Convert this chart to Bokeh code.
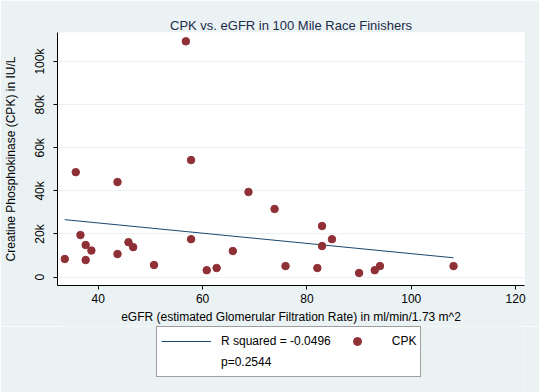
import numpy as np
from bokeh.plotting import figure
from bokeh.layouts import column
from bokeh.models import Legend, LegendItem, FixedTicker
from bokeh.embed import file_html
from bokeh.resources import INLINE

# eGFR (ml/min/1.73 m^2) and CPK (IU/L) for each finisher
egfr = [33.6, 35.7, 36.6, 37.6, 37.6, 38.7, 43.7, 43.7, 45.8, 46.7, 50.7, 57.8, 57.8, 60.8,
        62.7, 56.8, 65.8, 68.8, 73.8, 75.9, 82.0, 82.9, 82.9, 84.8, 90.0, 93.0, 94.0, 108.1]
cpk = [8400, 48700, 19500, 14900, 7900, 12300, 44100, 10700, 16200, 13900, 5600, 54300, 17600, 3200,
       4200, 109400, 12100, 39500, 31600, 5100, 4200, 23700, 14400, 17600, 1900, 3200, 5100, 5100]

x_ticks = [40, 60, 80, 100, 120]
y_ticks = [0, 20000, 40000, 60000, 80000, 100000]
y_tick_labels = ["0", "20k", "40k", "60k", "80k", "100k"]

title_text = "CPK vs. eGFR in 100 Mile Race Finishers"
x_label = "eGFR (estimated Glomerular Filtration Rate) in ml/min/1.73 m^2"
y_label = "Creatine Phosphokinase (CPK) in IU/L"
fit_label = "R squared = -0.0496"
p_label = "p=0.2544"
series_label = "CPK"

BG = "#EAF2F3"
FONT = "Liberation Sans"
LINE_COLOR = "#1A476F"
DOT_COLOR = "#8f3036"

p = figure(width=539, height=326, output_backend="svg", toolbar_location=None,
           x_range=(32.2, 121.7), y_range=(-3900, 113500),
           min_border_left=53, min_border_right=15, min_border_top=32, min_border_bottom=41,
           border_fill_color=BG, background_fill_color="white", outline_line_color=None)

p.title.text = title_text
p.title.align = "center"
p.title.text_font = FONT
p.title.text_font_size = "13px"
p.title.text_font_style = "normal"
p.title.text_color = "#1c2b4b"
p.title.standoff = 0

# fit line from OLS on the data
coef = np.polyfit(egfr, cpk, 1)
fx = np.array([min(egfr), max(egfr)])
fy = np.polyval(coef, fx)
p.line(fx, fy, line_color=LINE_COLOR, line_width=1)

p.scatter(egfr, cpk, size=7.5, fill_color=DOT_COLOR, line_color=DOT_COLOR)

# axes
for ax in (p.xaxis[0], p.yaxis[0]):
    ax.axis_line_color = "black"
    ax.axis_line_width = 1
    ax.major_tick_in = 0
    ax.major_tick_out = 4
    ax.minor_tick_line_color = None
    ax.major_label_text_font = FONT
    ax.major_label_text_font_size = "12px"
    ax.major_label_text_color = "black"
    ax.axis_label_text_font = FONT
    ax.axis_label_text_font_size = "12px"
    ax.axis_label_text_font_style = "normal"
    ax.axis_label_text_color = "black"

p.xaxis[0].ticker = FixedTicker(ticks=x_ticks)
p.xaxis[0].axis_label = x_label
p.xaxis[0].major_label_standoff = 4
p.xaxis[0].axis_label_standoff = 4

p.yaxis[0].ticker = FixedTicker(ticks=y_ticks)
p.yaxis[0].major_label_overrides = {t: l for t, l in zip(y_ticks, y_tick_labels)}
p.yaxis[0].major_label_orientation = "vertical"
p.yaxis[0].axis_label = y_label
p.yaxis[0].major_label_standoff = 6
p.yaxis[0].axis_label_standoff = 13

p.xgrid.visible = False
p.ygrid.grid_line_color = BG
p.ygrid.grid_line_width = 1

# legend strip below the plot (proxy renderers sit outside the visible range)
lf = figure(width=539, height=66, output_backend="svg", toolbar_location=None,
            x_range=(0, 1), y_range=(0, 1), x_axis_type=None, y_axis_type=None,
            min_border=0, border_fill_color=BG, background_fill_color=BG,
            outline_line_color=None)
lf.xgrid.visible = False
lf.ygrid.visible = False
leg_line = lf.line(x=[-5, -4], y=[-5, -5], line_color=LINE_COLOR, line_width=1)
leg_dot = lf.scatter(x=[-5], y=[-5], size=7.5, fill_color=DOT_COLOR, line_color=DOT_COLOR)
leg_blank = lf.scatter(x=[-5], y=[-5], size=1, fill_alpha=0, line_alpha=0)

legend = Legend(items=[LegendItem(label=fit_label, renderers=[leg_line]),
                       LegendItem(label=series_label, renderers=[leg_dot]),
                       LegendItem(label=p_label, renderers=[leg_blank])],
                orientation="horizontal", ncols=2, location=(99, 15),
                margin=0, padding=4, spacing=1, glyph_width=50, glyph_height=20,
                label_height=20, label_standoff=10, label_text_font=FONT,
                label_text_font_size="12px", label_text_color="black",
                border_line_color="#404040", border_line_width=1.5,
                background_fill_color="white", background_fill_alpha=1)
lf.add_layout(legend, "center")

layout = column(p, lf, spacing=0)
open("out.html", "w").write(file_html(layout, INLINE))
